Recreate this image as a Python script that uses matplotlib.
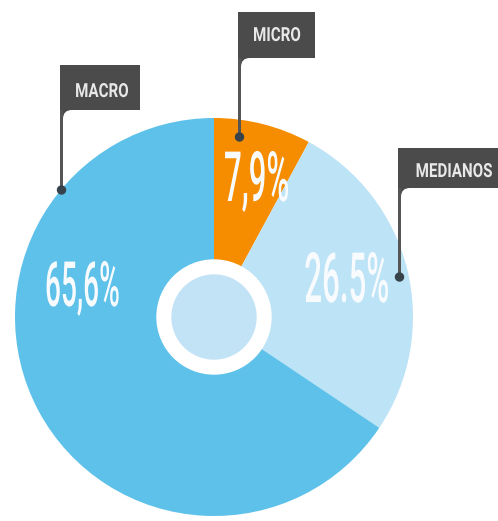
import matplotlib
matplotlib.use("Agg")
import matplotlib.pyplot as plt
from matplotlib.patches import Rectangle, Circle, PathPatch
from matplotlib.path import Path
from matplotlib.patheffects import AbstractPathEffect
from matplotlib.transforms import Affine2D

W, H = 498, 521

# data
labels = ["MICRO", "MEDIANOS", "MACRO"]
values = [7.9, 26.5, 65.6]
value_texts = ["7,9%", "26.5%", "65,6%"]
colors = ["#F68D00", "#BDE3F6", "#5EC1EA"]

# layout in pixels (top-left origin)
pct_pos = [(257, 201, "center"), (347, 302, "center"), (43, 306, "left")]
pct_size = [50, 50, 45]
flag_box = [(238, 12, 315, 58), (398, 148, 510, 188), (60, 65, 140, 110)]
flag_dot = [(240, 137), (401, 277), (62, 190)]
flag_text = [(277, 36, "center"), (493, 172, "right"), (102, 92, "center")]

CX, CY, R = 214, 317, 199


class Condense(AbstractPathEffect):
    # squeeze glyphs horizontally, keeping the left / centre / right ink edge fixed
    def __init__(self, sx, anchor="center"):
        super().__init__()
        self.sx = sx
        self.anchor = anchor

    def draw_path(self, renderer, gc, tpath, affine, rgbFace=None):
        ext = tpath.get_extents()
        cx = {"left": ext.x0, "right": ext.x1}.get(self.anchor, (ext.x0 + ext.x1) / 2)
        sq = Affine2D().translate(-cx, 0).scale(self.sx, 1).translate(cx, 0)
        renderer.draw_path(gc, tpath, sq + affine, rgbFace)


def py(y):
    return H - y


fig = plt.figure(figsize=(W / 100, H / 100), dpi=100)
ax = fig.add_axes([0, 0, 1, 1])

ax.pie(values, colors=colors, startangle=90, counterclock=False,
       center=(CX, py(CY)), radius=R, wedgeprops=dict(linewidth=0))

ax.add_patch(Circle((CX, py(CY)), 57, color="white", zorder=2))
ax.add_patch(Circle((CX, py(CY)), 42, color="#C2E3F6", zorder=3))

for txt, (x, y, ha), fs in zip(value_texts, pct_pos, pct_size):
    ax.text(x, py(y), txt, fontsize=fs, color="#F7FBFE", family="Roboto",
            weight="medium", ha=ha, va="baseline", zorder=6,
            path_effects=[Condense(0.45, ha)])

pw, fr = 3, 9
for lab, (x0, y0, x1, y1), (dx, dy), (tx, ty, ha) in zip(labels, flag_box, flag_dot, flag_text):
    ax.add_patch(Rectangle((x0, py(y1)), x1 - x0, y1 - y0, color="#4B4B4B", lw=0, zorder=4))
    ax.add_patch(Rectangle((x0, py(dy)), pw, dy - y1, color="#555555", lw=0, zorder=4))
    xp, yb = x0 + pw, py(y1)
    fillet = Path([(xp, yb), (xp + fr, yb), (xp, yb), (xp, yb - fr), (xp, yb)],
                  [Path.MOVETO, Path.LINETO, Path.CURVE3, Path.CURVE3, Path.CLOSEPOLY])
    ax.add_patch(PathPatch(fillet, color="#4B4B4B", lw=0, zorder=4))
    ax.add_patch(Circle((x0 + pw / 2, py(dy)), 4, color="#37424B", zorder=5))
    ax.text(tx, py(ty), lab, fontsize=14, color="#E8E8E8", family="Roboto",
            weight="bold", ha=ha, va="center", zorder=6,
            path_effects=[Condense(0.78, ha)])

ax.set_xlim(0, W)
ax.set_ylim(0, H)
ax.set_aspect("equal")
ax.axis("off")

fig.savefig("out.png", dpi=100)
